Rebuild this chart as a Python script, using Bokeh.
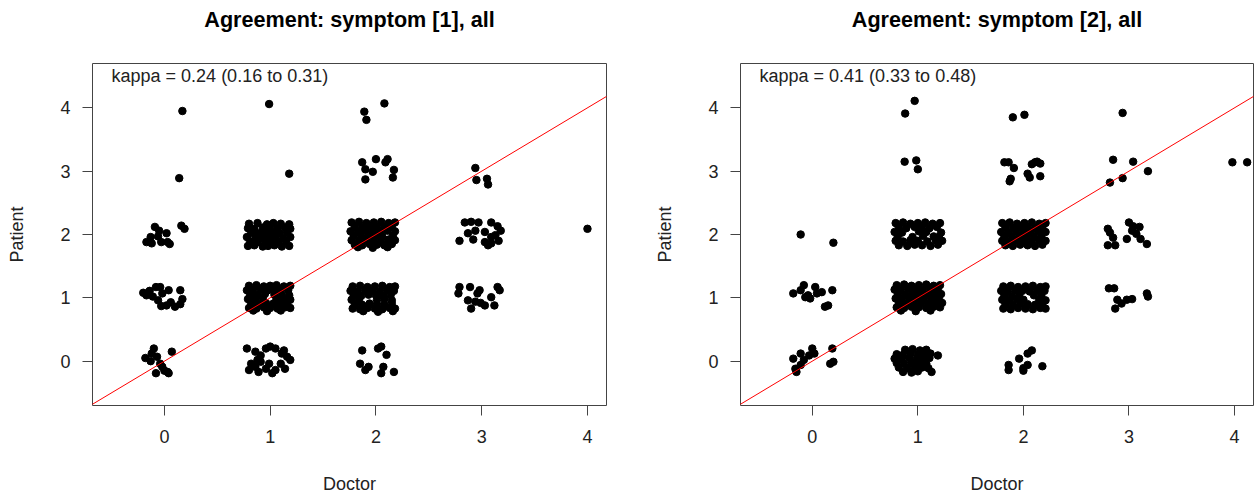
from bokeh.plotting import figure
from bokeh.models import Slope, Label, FixedTicker, Range1d, Title
from bokeh.layouts import row
from bokeh.embed import file_html
from bokeh.resources import INLINE

titles = ["Agreement: symptom [1], all", "Agreement: symptom [2], all"]
kappa_texts = ["kappa = 0.24 (0.16 to 0.31)", "kappa = 0.41 (0.33 to 0.48)"]
tick_values = [0, 1, 2, 3, 4]
x_title = "Doctor"
y_title = "Patient"

# jittered (doctor, patient) scores, symptom [1]
points_symptom1 = [
    # doctor 0
    (0.17, 3.95), (0.14, 2.89),
    (0.16, 2.14), (0.19, 2.09),
    (-0.09, 2.12), (-0.05, 2.06), (-0.06, 1.97), (-0.13, 1.96), (-0.17, 1.88), (-0.12, 1.86),
    (-0.03, 1.88), (0.02, 2.02), (0.03, 1.88), (0.05, 1.85),
    (-0.20, 1.08), (-0.17, 1.04), (-0.14, 1.11), (-0.08, 1.17), (-0.04, 1.17), (-0.11, 1.02),
    (-0.06, 0.96), (-0.02, 1.07), (0.04, 1.12), (0.06, 0.93), (0.10, 0.86), (0.15, 1.12),
    (0.17, 0.98), (0.15, 0.90), (-0.03, 0.87), (0.02, 0.88),
    (-0.10, 0.20), (-0.18, 0.05), (-0.13, 0.00), (-0.07, 0.07), (-0.04, -0.04), (-0.02, -0.09),
    (-0.08, -0.19), (0.04, -0.19), (0.07, 0.15), (0.00, -0.15), (-0.12, 0.12), (0.03, -0.17),
    # doctor 1
    (0.99, 4.06), (1.18, 2.96),
    (0.80, 2.17), (0.88, 2.18), (0.97, 2.16), (1.03, 2.18), (1.10, 2.17), (1.18, 2.16),
    (0.79, 2.10), (0.85, 2.09), (0.93, 2.11), (1.00, 2.10), (1.07, 2.09), (1.14, 2.11), (1.19, 2.09),
    (0.82, 2.03), (0.89, 2.02), (0.95, 2.04), (1.02, 2.03), (1.09, 2.02), (1.16, 2.04),
    (0.78, 1.96), (0.86, 1.97), (0.92, 1.95), (0.99, 1.96), (1.05, 1.97), (1.12, 1.95), (1.19, 1.96),
    (0.81, 1.89), (0.88, 1.88), (0.95, 1.90), (1.01, 1.89), (1.08, 1.88), (1.15, 1.90),
    (0.79, 1.82), (0.85, 1.83), (0.93, 1.81), (0.98, 1.82), (1.04, 1.83), (1.11, 1.81), (1.18, 1.82),
    (0.80, 1.19), (0.87, 1.20), (0.94, 1.18), (1.00, 1.19), (1.06, 1.20), (1.13, 1.18), (1.19, 1.19),
    (0.78, 1.12), (0.84, 1.11), (0.91, 1.13), (0.98, 1.12), (1.04, 1.11), (1.10, 1.13), (1.17, 1.12),
    (0.81, 1.05), (0.88, 1.04), (0.95, 1.06), (1.04, 1.05), (1.11, 1.05), (1.18, 1.04),
    (0.79, 0.98), (0.86, 0.97), (0.93, 0.99), (1.06, 0.98), (1.12, 0.98), (1.19, 0.97),
    (0.82, 0.91), (0.89, 0.90), (0.96, 0.92), (1.03, 0.91), (1.09, 0.90), (1.16, 0.92),
    (0.80, 0.84), (0.87, 0.83), (0.94, 0.85), (1.00, 0.84), (1.07, 0.83), (1.14, 0.85), (1.19, 0.84),
    (0.84, 0.80), (0.97, 0.79), (1.10, 0.80),
    (0.78, 0.20), (0.86, 0.15), (0.91, 0.09), (0.96, 0.20), (1.00, 0.23), (1.05, 0.20), (1.11, 0.12),
    (1.16, 0.07), (1.19, 0.02), (0.82, -0.04), (0.86, -0.09), (0.91, -0.01), (0.96, -0.12), (0.99, -0.04),
    (1.05, -0.14), (1.10, -0.04), (1.14, -0.12), (0.80, -0.14), (0.89, -0.17), (1.02, -0.19),
    (0.88, 0.02), (1.13, 0.17),
    # doctor 2
    (2.08, 4.07), (1.89, 3.94), (1.91, 3.81),
    (1.87, 3.14), (1.90, 3.03), (2.00, 3.19), (1.97, 2.99), (2.09, 3.14), (2.11, 3.19), (2.17, 3.02),
    (2.16, 2.90), (1.90, 2.87),
    (1.77, 2.19), (1.84, 2.20), (1.91, 2.18), (1.98, 2.19), (2.05, 2.20), (2.12, 2.18), (2.18, 2.19),
    (1.80, 2.12), (1.87, 2.11), (1.94, 2.13), (2.01, 2.12), (2.08, 2.11), (2.15, 2.13),
    (1.76, 2.05), (1.83, 2.04), (1.90, 2.06), (1.97, 2.05), (2.04, 2.04), (2.11, 2.06), (2.18, 2.05),
    (1.79, 1.98), (1.86, 1.97), (1.93, 1.99), (2.00, 1.98), (2.06, 1.97), (2.16, 1.98),
    (1.77, 1.91), (1.84, 1.90), (1.91, 1.92), (1.98, 1.91), (2.05, 1.90), (2.12, 1.92), (2.18, 1.91),
    (1.80, 1.84), (1.87, 1.83), (1.94, 1.85), (2.01, 1.84), (2.08, 1.83), (2.15, 1.85),
    (1.83, 1.80), (1.97, 1.79), (2.11, 1.80),
    (1.78, 1.18), (1.85, 1.19), (1.92, 1.17), (1.99, 1.18), (2.06, 1.19), (2.13, 1.17), (2.18, 1.18),
    (1.76, 1.11), (1.83, 1.10), (1.90, 1.12), (1.97, 1.11), (2.04, 1.10), (2.11, 1.12), (2.17, 1.11),
    (1.79, 1.04), (1.86, 1.03), (1.93, 1.05), (2.00, 1.04), (2.07, 1.03), (2.14, 1.05),
    (1.77, 0.97), (1.84, 0.96), (2.01, 0.97), (2.08, 0.98), (2.15, 0.96),
    (1.80, 0.90), (1.87, 0.89), (1.94, 0.91), (2.01, 0.90), (2.08, 0.89), (2.15, 0.91),
    (1.78, 0.83), (1.85, 0.82), (1.92, 0.84), (1.99, 0.83), (2.06, 0.82), (2.13, 0.84), (2.18, 0.83),
    (1.88, 0.79), (2.02, 0.78), (2.16, 0.79),
    (1.87, 0.17), (2.02, 0.20), (2.05, 0.23), (2.10, 0.10), (1.85, -0.04), (1.93, -0.09),
    (1.90, -0.14), (2.07, -0.09), (2.05, -0.19), (2.17, -0.17),
    # doctor 3
    (2.94, 3.05), (2.95, 2.86), (3.05, 2.88), (3.06, 2.79),
    (2.84, 2.19), (2.90, 2.20), (2.97, 2.19), (2.94, 2.06), (2.87, 2.02), (2.79, 1.90), (2.92, 1.92),
    (3.03, 2.04), (3.09, 2.19), (3.15, 2.13), (3.18, 2.06), (3.16, 1.90), (3.09, 1.96), (3.06, 1.83),
    (3.09, 1.86), (3.13, 1.99), (3.03, 1.88),
    (2.79, 1.17), (2.89, 1.17), (2.78, 1.07), (2.87, 0.96), (2.90, 0.83), (2.96, 1.07), (2.99, 0.92),
    (3.03, 0.88), (3.09, 1.01), (3.12, 0.88), (3.15, 1.17), (3.17, 1.12), (2.94, 0.94), (2.98, 1.12),
    # doctor 4
    (4.00, 2.09),
]

# jittered (doctor, patient) scores, symptom [2]
points_symptom2 = [
    # doctor 0
    (-0.11, 2.00), (0.20, 1.87),
    (-0.18, 1.07), (-0.11, 1.12), (-0.08, 1.20), (-0.066, 1.01), (-0.02, 0.99), (0.028, 1.17),
    (0.044, 1.07), (0.09, 1.09), (0.12, 0.86), (0.15, 0.88), (0.19, 1.12), (-0.04, 1.04),
    (-0.18, 0.04), (-0.16, -0.12), (-0.15, -0.17), (-0.11, 0.12), (-0.08, 0.02), (-0.03, 0.09),
    (0.00, 0.20), (0.02, 0.12), (0.19, 0.20), (0.17, -0.04), (0.20, -0.01), (-0.11, -0.06),
    # doctor 1
    (0.97, 4.11), (0.88, 3.91), (0.875, 3.15), (0.985, 3.17), (1.00, 3.03),
    (0.79, 2.18), (0.86, 2.19), (0.93, 2.17), (1.00, 2.18), (1.07, 2.19), (1.14, 2.17), (1.21, 2.18),
    (0.82, 2.11), (0.89, 2.10), (0.97, 2.12), (1.04, 2.11), (1.11, 2.10), (1.18, 2.12),
    (0.78, 2.04), (0.85, 2.03), (1.01, 2.05), (1.08, 2.04), (1.22, 2.03),
    (0.81, 1.97), (0.95, 1.96), (1.05, 1.98), (1.15, 1.97), (1.20, 1.96),
    (0.79, 1.90), (0.86, 1.89), (0.93, 1.91), (1.00, 1.90), (1.09, 1.89), (1.17, 1.91), (1.23, 1.90),
    (0.82, 1.83), (0.90, 1.82), (0.97, 1.84), (1.04, 1.83), (1.12, 1.82), (1.19, 1.84),
    (0.80, 1.20), (0.87, 1.21), (0.94, 1.19), (1.01, 1.20), (1.08, 1.21), (1.15, 1.19), (1.21, 1.20),
    (0.78, 1.13), (0.84, 1.12), (0.91, 1.14), (0.98, 1.13), (1.05, 1.12), (1.12, 1.14), (1.19, 1.13),
    (0.81, 1.06), (0.88, 1.05), (0.95, 1.07), (1.02, 1.06), (1.09, 1.05), (1.16, 1.07), (1.22, 1.06),
    (0.79, 0.99), (0.85, 0.98), (0.92, 1.00), (0.99, 0.99), (1.06, 0.98), (1.13, 1.00), (1.20, 0.99),
    (0.82, 0.92), (0.89, 0.91), (0.96, 0.93), (1.03, 0.92), (1.10, 0.91), (1.17, 0.93), (1.23, 0.92),
    (0.80, 0.85), (0.87, 0.84), (0.94, 0.86), (1.01, 0.85), (1.08, 0.84), (1.15, 0.86), (1.21, 0.85),
    (0.84, 0.80), (0.98, 0.79), (1.12, 0.80),
    (0.88, 0.18), (0.95, 0.19), (1.02, 0.17), (1.08, 0.18),
    (0.80, 0.11), (0.86, 0.10), (0.93, 0.12), (1.00, 0.11), (1.06, 0.10), (1.12, 0.12),
    (0.78, 0.04), (0.85, 0.03), (0.92, 0.05), (0.99, 0.04), (1.05, 0.03), (1.11, 0.05),
    (0.80, -0.03), (0.87, -0.04), (0.94, -0.02), (1.01, -0.03), (1.08, -0.04),
    (0.82, -0.10), (0.90, -0.11), (0.97, -0.09), (1.04, -0.10), (1.10, -0.11),
    (0.86, -0.17), (0.94, -0.18), (1.00, -0.16), (1.13, -0.17),
    (1.19, 0.09),
    # doctor 2
    (1.90, 3.85), (2.01, 3.89),
    (1.82, 3.14), (1.86, 3.14), (1.91, 3.05), (1.88, 2.88), (1.87, 2.84), (2.04, 2.96),
    (2.06, 2.90), (2.11, 3.14), (2.08, 3.11), (2.16, 3.12), (2.16, 2.92), (2.13, 3.15),
    (1.80, 2.18), (1.87, 2.19), (1.94, 2.17), (2.01, 2.18), (2.08, 2.19), (2.15, 2.17), (2.21, 2.18),
    (1.83, 2.11), (1.90, 2.10), (1.97, 2.12), (2.04, 2.11), (2.11, 2.10), (2.18, 2.12),
    (1.79, 2.04), (1.86, 2.03), (1.93, 2.05), (2.00, 2.04), (2.07, 2.03), (2.14, 2.05), (2.21, 2.04),
    (1.82, 1.97), (1.89, 1.96), (1.96, 1.98), (2.03, 1.97), (2.10, 1.96), (2.17, 1.98),
    (1.80, 1.90), (1.87, 1.89), (1.94, 1.91), (2.01, 1.90), (2.08, 1.89), (2.15, 1.91), (2.21, 1.90),
    (1.83, 1.83), (1.90, 1.82), (1.97, 1.84), (2.04, 1.83), (2.11, 1.82), (2.18, 1.84),
    (1.81, 1.18), (1.88, 1.19), (1.95, 1.17), (2.02, 1.18), (2.09, 1.19), (2.16, 1.17), (2.21, 1.18),
    (1.79, 1.11), (1.85, 1.10), (1.92, 1.12), (1.99, 1.11), (2.06, 1.10), (2.13, 1.12), (2.20, 1.11),
    (1.82, 1.04), (1.89, 1.03), (1.96, 1.05), (2.10, 1.04), (2.17, 1.03),
    (1.80, 0.97), (1.87, 0.96), (1.94, 0.98), (2.00, 0.97), (2.15, 0.97), (2.21, 0.96),
    (1.83, 0.90), (1.90, 0.89), (1.97, 0.91), (2.04, 0.90), (2.11, 0.89), (2.18, 0.91),
    (1.81, 0.83), (1.88, 0.82), (1.95, 0.84), (2.02, 0.83), (2.09, 0.82), (2.16, 0.84), (2.21, 0.83),
    (2.08, 0.17), (2.04, 0.12), (1.96, 0.04), (1.86, -0.06), (1.86, -0.14), (2.00, -0.11),
    (2.04, -0.06), (2.00, -0.15), (2.18, -0.08),
    # doctor 3
    (2.94, 3.92),
    (2.85, 3.18), (3.04, 3.15), (3.18, 3.00), (2.94, 2.89), (2.82, 2.82),
    (2.80, 2.09), (2.82, 2.03), (2.85, 1.95), (2.80, 1.83), (2.87, 1.83), (2.98, 1.93), (3.00, 2.19),
    (3.04, 2.13), (3.10, 2.12), (3.07, 2.01), (3.11, 1.93), (3.17, 1.85), (3.03, 2.06),
    (2.81, 1.15), (2.86, 1.15), (2.89, 0.97), (2.87, 0.83), (2.93, 0.91), (2.98, 0.97),
    (3.03, 0.98), (3.17, 1.07), (3.18, 1.02),
    # doctor 4
    (3.98, 3.14), (4.12, 3.14),
]

FONT = "Liberation Sans"
TEXT = "#222222"
LINE = "#444444"


def make_panel(title, kappa, points, border_left, border_right, frame_w):
    doctor = [d for d, _ in points]
    patient = [pt for _, pt in points]
    p = figure(
        frame_width=frame_w, frame_height=342,
        x_range=Range1d(-0.68, 4.18), y_range=Range1d(-0.7, 4.7),
        output_backend="svg", toolbar_location=None,
        min_border_left=border_left, min_border_right=border_right,
        min_border_top=63, min_border_bottom=81,
        background_fill_color="white", border_fill_color="white",
    )
    # spacer between the box and the title (the title sits outermost)
    p.add_layout(Title(text=" ", text_font_size="1px", standoff=29), "above")
    p.title.text = title
    p.title.align = "center"
    p.title.text_font = FONT
    p.title.text_font_size = "21.6px"
    p.title.text_font_style = "bold"
    p.title.text_color = "#000000"
    p.title.standoff = 0

    p.xgrid.visible = False
    p.ygrid.visible = False
    p.outline_line_color = LINE
    p.outline_line_width = 1
    p.outline_line_alpha = 1.0

    for ax in (p.xaxis[0], p.yaxis[0]):
        ax.ticker = FixedTicker(ticks=tick_values)
        ax.minor_tick_line_color = None
        ax.axis_line_color = None
        ax.major_tick_in = 0
        ax.major_tick_out = 10
        ax.major_tick_line_color = LINE
        ax.major_label_text_font = FONT
        ax.major_label_text_font_size = "18px"
        ax.major_label_text_color = TEXT
        ax.axis_label_text_font = FONT
        ax.axis_label_text_font_size = "18px"
        ax.axis_label_text_font_style = "normal"
        ax.axis_label_text_color = TEXT
    p.xaxis.axis_label = x_title
    p.yaxis.axis_label = y_title
    p.xaxis.major_label_standoff = 14
    p.yaxis.major_label_standoff = 12
    p.xaxis.axis_label_standoff = 28
    p.yaxis.axis_label_standoff = 30
    p.yaxis.major_label_orientation = "horizontal"

    p.scatter(doctor, patient, size=7.5, marker="circle",
              fill_color="black", line_color="black")
    p.add_layout(Slope(gradient=1, y_intercept=0, line_color="red", line_width=1))
    p.add_layout(Label(x=-0.5, y=4.5, text=kappa, text_align="left",
                       text_baseline="middle", text_font=FONT,
                       text_font_size="18px", text_color=TEXT))
    return p


p1 = make_panel(titles[0], kappa_texts[0], points_symptom1, 92, 24, 514)
p2 = make_panel(titles[1], kappa_texts[1], points_symptom2, 110, 1, 513)
layout = row(p1, p2)

open("out.html", "w").write(file_html(layout, INLINE))
